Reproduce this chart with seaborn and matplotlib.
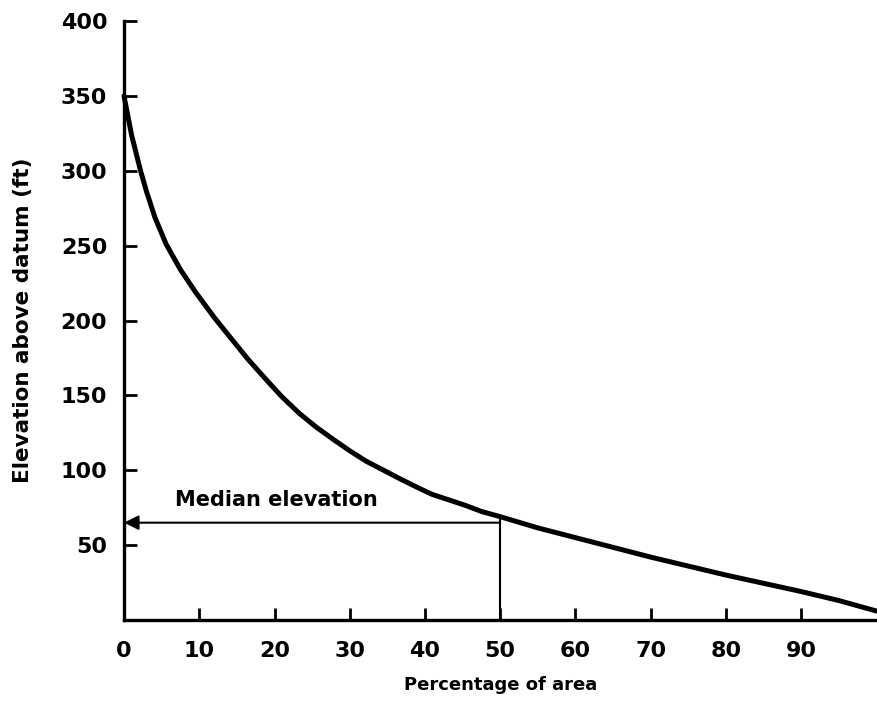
import matplotlib
matplotlib.use("Agg")
import matplotlib.pyplot as plt
import seaborn as sns
import pandas as pd

# Data (hypsometric curve)
pct_area = [0, 1, 2.2, 3, 4.1, 5.6, 7.5, 9.5, 12, 14.4, 16.5, 18.9, 21, 23.3,
            25.5, 27.7, 30, 32.2, 34.5, 36.6, 38.8, 40.9, 43, 45.4, 47.5, 50,
            55, 60, 65, 70, 75, 80, 85, 90, 95, 100]
elevation = [350, 324, 300, 286, 269, 251, 234, 219, 202, 187, 174, 160.5,
             149, 138, 129, 121, 113, 106, 100, 94.5, 89, 84, 80.5, 76.5,
             72.5, 69, 61.5, 55, 48.5, 42, 36, 30, 24.5, 19, 13, 6]
median_pct = 50
median_elev = 65
median_curve_elev = 69
x_ticks = [0, 10, 20, 30, 40, 50, 60, 70, 80, 90]
y_ticks = [50, 100, 150, 200, 250, 300, 350, 400]

sns.set_theme(style="ticks")
plt.rcParams['font.family'] = ['DejaVu Sans']
plt.rcParams['text.color'] = 'black'
plt.rcParams['axes.labelcolor'] = 'black'
plt.rcParams['xtick.color'] = 'black'
plt.rcParams['ytick.color'] = 'black'

df = pd.DataFrame({"pct": pct_area, "elev": elevation})

fig = plt.figure(figsize=(8.77, 7.02), dpi=100)
ax = fig.add_axes([0.1414, 0.1168, 0.8580, 0.8532])

sns.lineplot(data=df, x="pct", y="elev", ax=ax, color="black", linewidth=3.6,
             clip_on=False)

# Median construction lines
ax.plot([median_pct, median_pct], [0, median_curve_elev], color="black",
        linewidth=1.5)
ax.annotate("", xy=(0, median_elev), xytext=(median_pct, median_elev),
            arrowprops=dict(arrowstyle="-|>", color="black", lw=1.5,
                            mutation_scale=22, shrinkA=0, shrinkB=0))
ax.text(6.8, 80, "Median elevation", fontsize=15, fontweight="bold",
        color="black", ha="left", va="center")

ax.set_xlim(0, 100)
ax.set_ylim(0, 400)
ax.set_xticks(x_ticks)
ax.set_xticklabels([str(t) for t in x_ticks])
ax.set_yticks(y_ticks)
ax.set_yticklabels([str(t) for t in y_ticks])

ax.tick_params(axis="both", direction="in", length=9, width=2, labelsize=16,
               colors="black")
for lab in ax.get_xticklabels() + ax.get_yticklabels():
    lab.set_fontweight("bold")
ax.tick_params(axis="y", pad=12)
ax.tick_params(axis="x", pad=15)
ax.xaxis.get_major_ticks()[0].tick1line.set_visible(False)

for s in ["top", "right"]:
    ax.spines[s].set_visible(False)
for s in ["left", "bottom"]:
    ax.spines[s].set_linewidth(2.4)
    ax.spines[s].set_color("black")

ax.set_xlabel("Percentage of area", fontsize=13, fontweight="bold",
              color="black", labelpad=11)
ax.set_ylabel("Elevation above datum (ft)", fontsize=15.5, fontweight="bold",
              color="black", labelpad=20)

fig.savefig("out.png", dpi=100)
